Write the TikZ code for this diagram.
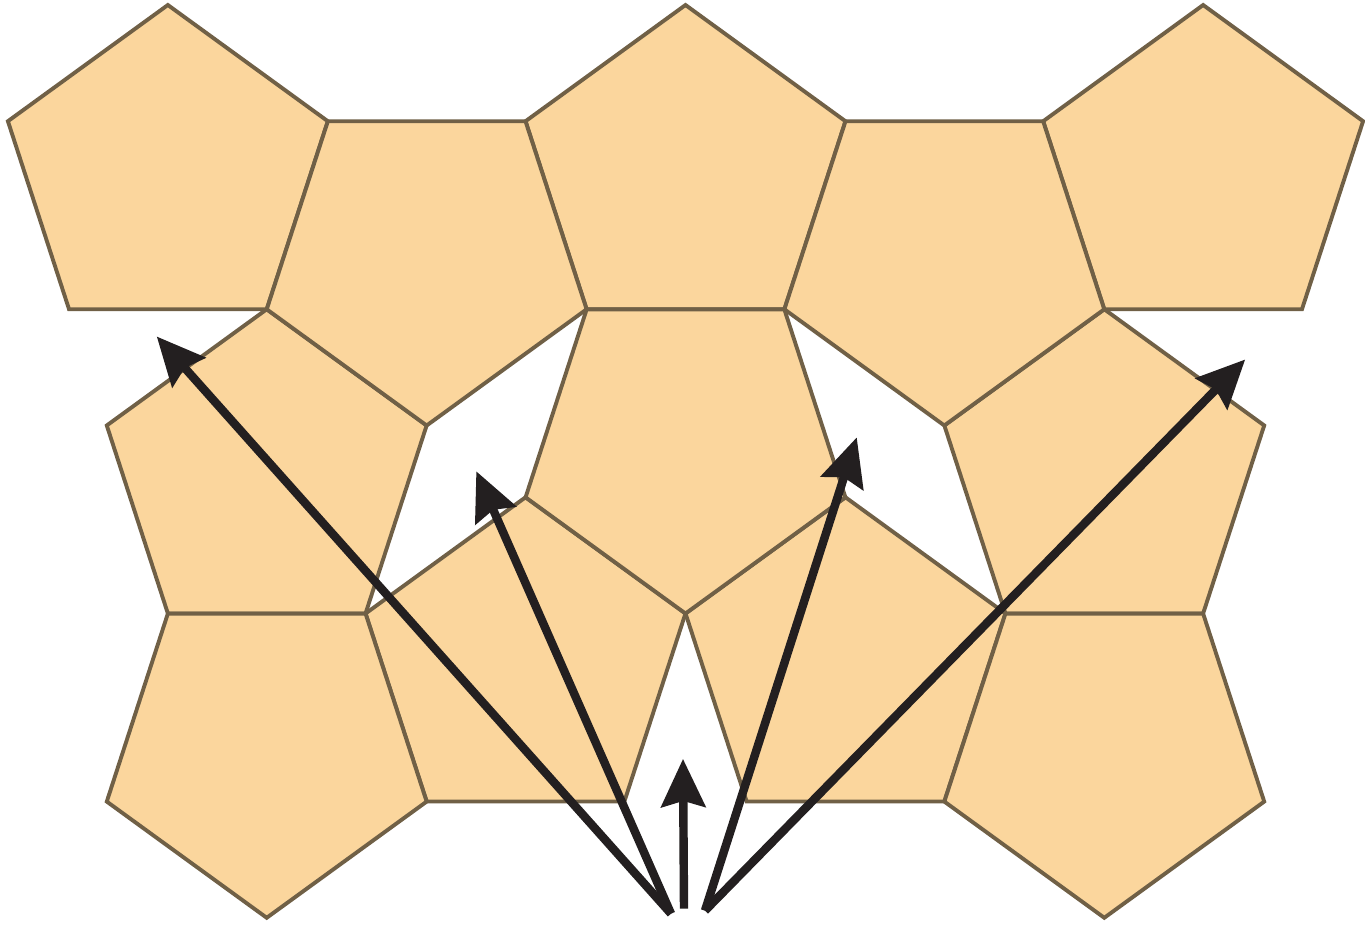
\documentclass[tikz,border=0pt]{standalone}
\usepackage{tikz}
\usetikzlibrary{arrows.meta}
\usepackage{xcolor}
\definecolor{tilefill}{RGB}{251,214,157}
\definecolor{tileline}{RGB}{112,96,70}
\definecolor{vecink}{RGB}{35,31,32}

\begin{document}
\begin{tikzpicture}[x=0.01cm,y=-0.01cm,
  tile/.style={fill=tilefill,draw=tileline,line width=1.1pt},
  vec/.style={draw=vecink,line width=2.4pt,-{Stealth[length=4.8mm,width=4.4mm,inset=0.6mm]}}]
\fill[white] (0,0) rectangle (1365,929);
\def\R{168.4}
% pentagons, point up
\foreach \cx/\cy in {168.1/173.4,686.5/173.4,1204.9/173.4,267.1/478.1,1105.9/478.1,526.3/666.4,846.7/666.4}
  \draw[tile,shift={(\cx,\cy)}] (-90:\R) -- (-18:\R) -- (54:\R) -- (126:\R) -- (198:\R) -- cycle;
% pentagons, point down
\foreach \cx/\cy in {427.3/257.7,945.7/257.7,686.5/446.0,267.1/750.7,1105.9/750.7}
  \draw[tile,shift={(\cx,\cy)}] (90:\R) -- (162:\R) -- (234:\R) -- (306:\R) -- (18:\R) -- cycle;
\coordinate (oL) at (672,915);
\coordinate (oM) at (685,910);
\coordinate (oR) at (706,912);
\coordinate (tipA) at (157,337);
\coordinate (tipQa) at (477,472);
\coordinate (tipM) at (684,760);
\coordinate (tipQb) at (858,438);
\coordinate (tipC) at (1247,360);
\draw[vec] (oL) -- (tipA);
\draw[vec] (oL) -- (tipQa);
\draw[vec] (oM) -- (tipM);
\draw[vec] (oR) -- (tipQb);
\draw[vec] (oR) -- (tipC);
\end{tikzpicture}
\end{document}
